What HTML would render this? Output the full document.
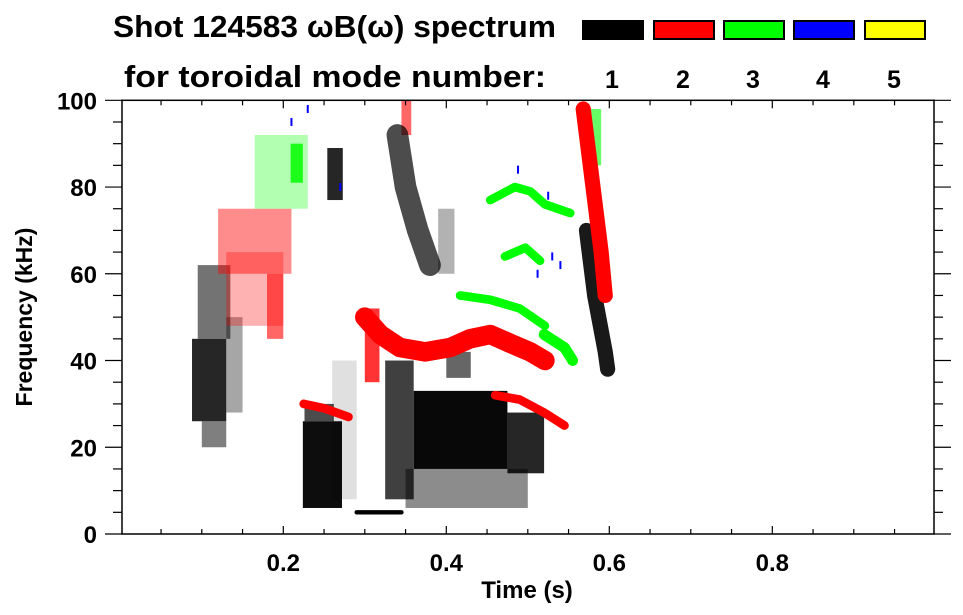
<!DOCTYPE html>
<html><head><meta charset="utf-8">
<style>
body{margin:0;background:#fff;}
svg{display:block;font-family:"Liberation Sans",Arial,sans-serif;font-weight:bold;}
</style></head>
<body>
<svg id="chart" width="963" height="615" viewBox="0 0 963 615" xmlns="http://www.w3.org/2000/svg">
<text x="113" y="37" font-size="31" textLength="443" lengthAdjust="spacingAndGlyphs">Shot 124583 ωB(ω) spectrum</text>
<text x="124" y="87" font-size="31" textLength="422" lengthAdjust="spacingAndGlyphs">for toroidal mode number:</text>
<g id="legend"></g>
<g id="marks" clip-path="url(#clip)"></g>
<defs><clipPath id="clip"><rect x="122" y="100" width="812" height="434"/></clipPath></defs>
<g id="axes"></g>
<text x="527" y="598" font-size="24" text-anchor="middle">Time (s)</text>
<text transform="translate(32,317) rotate(-90)" font-size="23" text-anchor="middle">Frequency (kHz)</text>
</svg>
<script>
// data
const modeColors = ["#000000","#ff0000","#00ff00","#0000ff","#ffff00"];
const modeLabels = ["1","2","3","4","5"];
const xTicks = [0.2,0.4,0.6,0.8];
const yTicks = [0,20,40,60,80,100];
// blobs: time ranges (s), freq ranges (kHz), mode index, density
const blobT0 = [0.088,0.095,0.100,0.13,0.224,0.226,0.254,0.325,0.36,0.475,0.35,0.40,0.12,0.18,0.30,0.345,0.165,0.209,0.575,0.26,0.13,0.39];
const blobT1 = [0.13,0.135,0.130,0.15,0.272,0.262,0.273,0.36,0.475,0.52,0.50,0.43,0.21,0.20,0.318,0.357,0.23,0.224,0.59,0.29,0.20,0.41];
const blobF0 = [26,45,20,28,6,26,77,8,15,14,6,36,60,45,35,92,75,81,85,8,48,60];
const blobF1 = [45,62,26,50,26,30,89,40,33,28,15,42,75,60,52,100,92,90,98,40,65,75];
const blobMode = [0,0,0,0,0,0,0,0,0,0,0,0,1,1,1,1,2,2,2,0,1,0];
const blobDensity = [0.85,0.55,0.5,0.35,0.95,0.7,0.85,0.75,0.97,0.85,0.45,0.6,0.45,0.6,0.8,0.6,0.3,0.85,0.6,0.12,0.3,0.3];
// ridges: time points, freq points, mode, thickness (kHz)
const ridgeTimes = [
 [0.34,0.35,0.365,0.38],
 [0.572,0.582,0.595,0.598],
 [0.30,0.319,0.343,0.374,0.405,0.429,0.454,0.478,0.503,0.521],
 [0.46,0.49,0.52,0.545],
 [0.225,0.25,0.28],
 [0.568,0.58,0.59,0.595],
 [0.454,0.484,0.503,0.521,0.552],
 [0.472,0.497,0.515],
 [0.417,0.454,0.49,0.521],
 [0.52,0.545,0.555],
 [0.29,0.31,0.345]
];
const ridgeFreqs = [
 [92,80,70,62],
 [70,55,42,38],
 [50,46,43,42,43,45,46,44,42,40],
 [32,31,28,25],
 [30,29,27],
 [98,80,65,55],
 [77,80,79,76,74],
 [64,66,63],
 [55,54,52,48],
 [46,43,40],
 [5,5,5]
];
const ridgeMode = [0,0,1,1,1,1,2,2,2,2,0];
const ridgeWidth = [5,3.5,4.5,2,2,3.5,2,2,2,2.5,1];
const ridgeDensity = [0.7,0.9,1,1,1,1,1,1,1,1,1];
// small blue points
const blueT = [0.27,0.488,0.512,0.525,0.53,0.54,0.21,0.23];
const blueF = [80,84,60,78,64,62,95,98];

const X0=122, X1=934, Y0=100.3, Y1=534;
function xs(t){ return 120.3 + 815*t; }
function ys(f){ return 534 - 4.337*f; }
const NS="http://www.w3.org/2000/svg";
function mk(tag, attrs, parent){ const e=document.createElementNS(NS,tag); for(const k in attrs) e.setAttribute(k,attrs[k]); parent.appendChild(e); return e; }

const marks=document.getElementById('marks');
for(let i=0;i<blobT0.length;i++){
  const r=mk('rect',{x:xs(blobT0[i]),y:ys(blobF1[i]),width:xs(blobT1[i])-xs(blobT0[i]),height:ys(blobF0[i])-ys(blobF1[i]),fill:modeColors[blobMode[i]],'fill-opacity':blobDensity[i]},marks);
  
  
}
for(let i=0;i<ridgeTimes.length;i++){
  const pts=ridgeTimes[i].map((t,j)=>xs(t)+','+ys(ridgeFreqs[i][j])).join(' ');
  const p=mk('polyline',{points:pts,fill:'none',stroke:modeColors[ridgeMode[i]],'stroke-opacity':ridgeDensity[i],'stroke-width':ridgeWidth[i]*4.337,'stroke-linejoin':'round','stroke-linecap':'round'},marks);
  
  
}
for(let i=0;i<blueT.length;i++){
  const r=mk('rect',{x:xs(blueT[i])-1,y:ys(blueF[i])-4,width:2,height:8,fill:modeColors[3]},marks);
  
  
}

// axes
const ax=document.getElementById('axes');
mk('rect',{x:X0,y:Y0,width:X1-X0,height:Y1-Y0,fill:'none',stroke:'#000','stroke-width':1.5},ax);
for(let t=0.05;t<1.0;t+=0.05){
  const x=xs(t); const major=Math.abs(Math.round(t*10)/10-t)<1e-6 && Math.round(t*10)%2===0;
  const L=major?8:5;
  mk('line',{x1:x,y1:Y1,x2:x,y2:Y1-L,stroke:'#000','stroke-width':1.2},ax);
  mk('line',{x1:x,y1:Y0,x2:x,y2:Y0+L,stroke:'#000','stroke-width':1.2},ax);
}
for(let f=0;f<=100;f+=5){
  const y=ys(f); const major=f%20===0;
  const L=major?17:9;
  mk('line',{x1:X0,y1:y,x2:X0-L,y2:y,stroke:'#000','stroke-width':1.2},ax);
  mk('line',{x1:X1,y1:y,x2:X1+(major?17:9),y2:y,stroke:'#000','stroke-width':1.2},ax);
}
xTicks.forEach(t=>{
  const tx=mk('text',{x:xs(t),y:571,'font-size':24,'text-anchor':'middle'},ax);
  tx.textContent=t.toFixed(1);
  
  
});
yTicks.forEach(f=>{
  const tx=mk('text',{x:97,y:ys(f)+9,'font-size':24,'text-anchor':'end'},ax);
  tx.textContent=String(f);
  
  
});

// legend
const lg=document.getElementById('legend');
const legX=[582,653,723,793,864];
modeColors.forEach((c,i)=>{
  const r=mk('rect',{x:legX[i]+1,y:21,width:60,height:18,fill:c,stroke:'#000','stroke-width':2},lg);
  
  
  const tx=mk('text',{x:legX[i]+30,y:88,'font-size':25,'text-anchor':'middle'},lg);
  tx.textContent=modeLabels[i];
  
  
});
</script>
</body></html>
